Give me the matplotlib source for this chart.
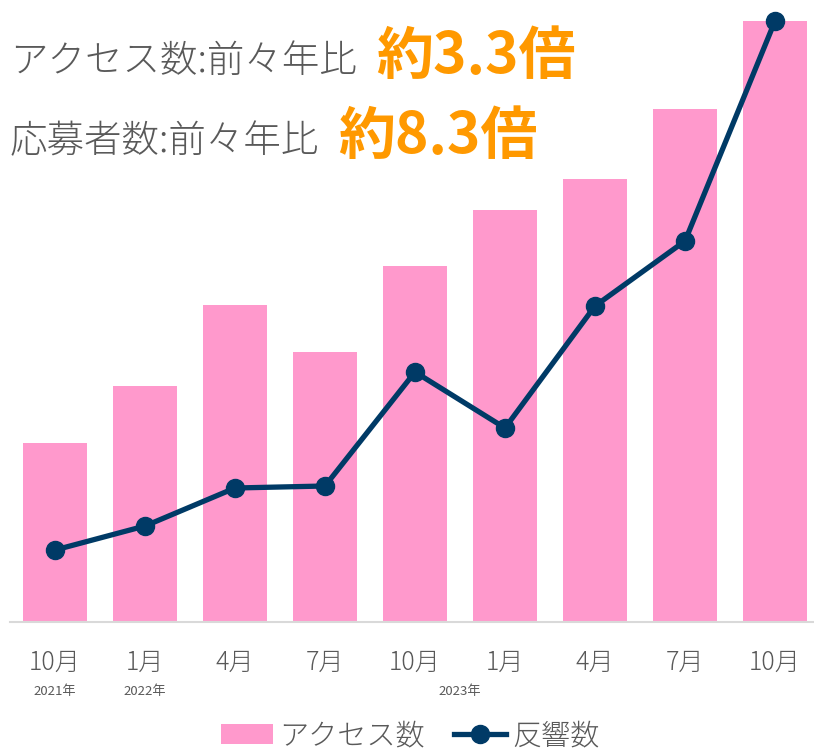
import matplotlib.pyplot as plt

plt.rcParams['font.family'] = ['Noto Sans CJK JP', 'DejaVu Sans']

months = ['10月', '1月', '4月', '7月', '10月', '1月', '4月', '7月', '10月']
years = [(0, '2021年'), (1, '2022年'), (4.5, '2023年')]
access = [179, 236, 317, 270, 356, 412, 443, 513, 601]
responses = [72, 96, 134, 136, 250, 194, 316, 381, 601]

gray = '#595959'
pink = '#FF99CC'
navy = '#003A66'
orange = '#FF9900'

fig = plt.figure(figsize=(8.14, 7.5), dpi=100)
ax = fig.add_axes([10 / 814, 128 / 750, 810 / 814, 622 / 750])

x = list(range(len(months)))
bars = ax.bar(x, access, width=0.72, color=pink, zorder=1, label='アクセス数')
line, = ax.plot(x, responses, color=navy, lw=3.8, marker='o', ms=13, zorder=3,
                label='反響数')

ax.set_xlim(-0.5, 8.5)
ax.set_ylim(0, 622)
for s in ['top', 'right', 'left']:
    ax.spines[s].set_visible(False)
ax.spines['bottom'].set_color('#D9D9D9')
ax.spines['bottom'].set_linewidth(1.5)
ax.set_yticks([])
ax.set_xticks(x)
ax.set_xticklabels(months, fontsize=18, color=gray, fontweight='light')
ax.tick_params(axis='x', length=0, pad=20)

for xi, lab in years:
    ax.text(xi, -70, lab, ha='center', va='center', fontsize=9.5, color=gray)

fig.text(10 / 814, 1 - 61 / 750, 'アクセス数:前々年比', fontsize=27, color=gray,
         va='center', ha='left', fontweight='light')
fig.text(376 / 814, 1 - 57 / 750, '約3.3倍', fontsize=41, color=orange,
         fontweight='bold', va='center', ha='left')
fig.text(10 / 814, 1 - 141 / 750, '応募者数:前々年比', fontsize=27, color=gray,
         va='center', ha='left', fontweight='light')
fig.text(338 / 814, 1 - 137 / 750, '約8.3倍', fontsize=41, color=orange,
         fontweight='bold', va='center', ha='left')

leg = fig.legend([bars, line], ['アクセス数', '反響数'], loc='center',
                 bbox_to_anchor=(410 / 814, 1 - 736 / 750),
                 ncol=2, frameon=False, fontsize=21, handlelength=1.8,
                 handletextpad=0.2, columnspacing=1.0)
for t in leg.get_texts():
    t.set_color(gray)
    t.set_fontweight('light')

fig.savefig('out.png', dpi=100)
